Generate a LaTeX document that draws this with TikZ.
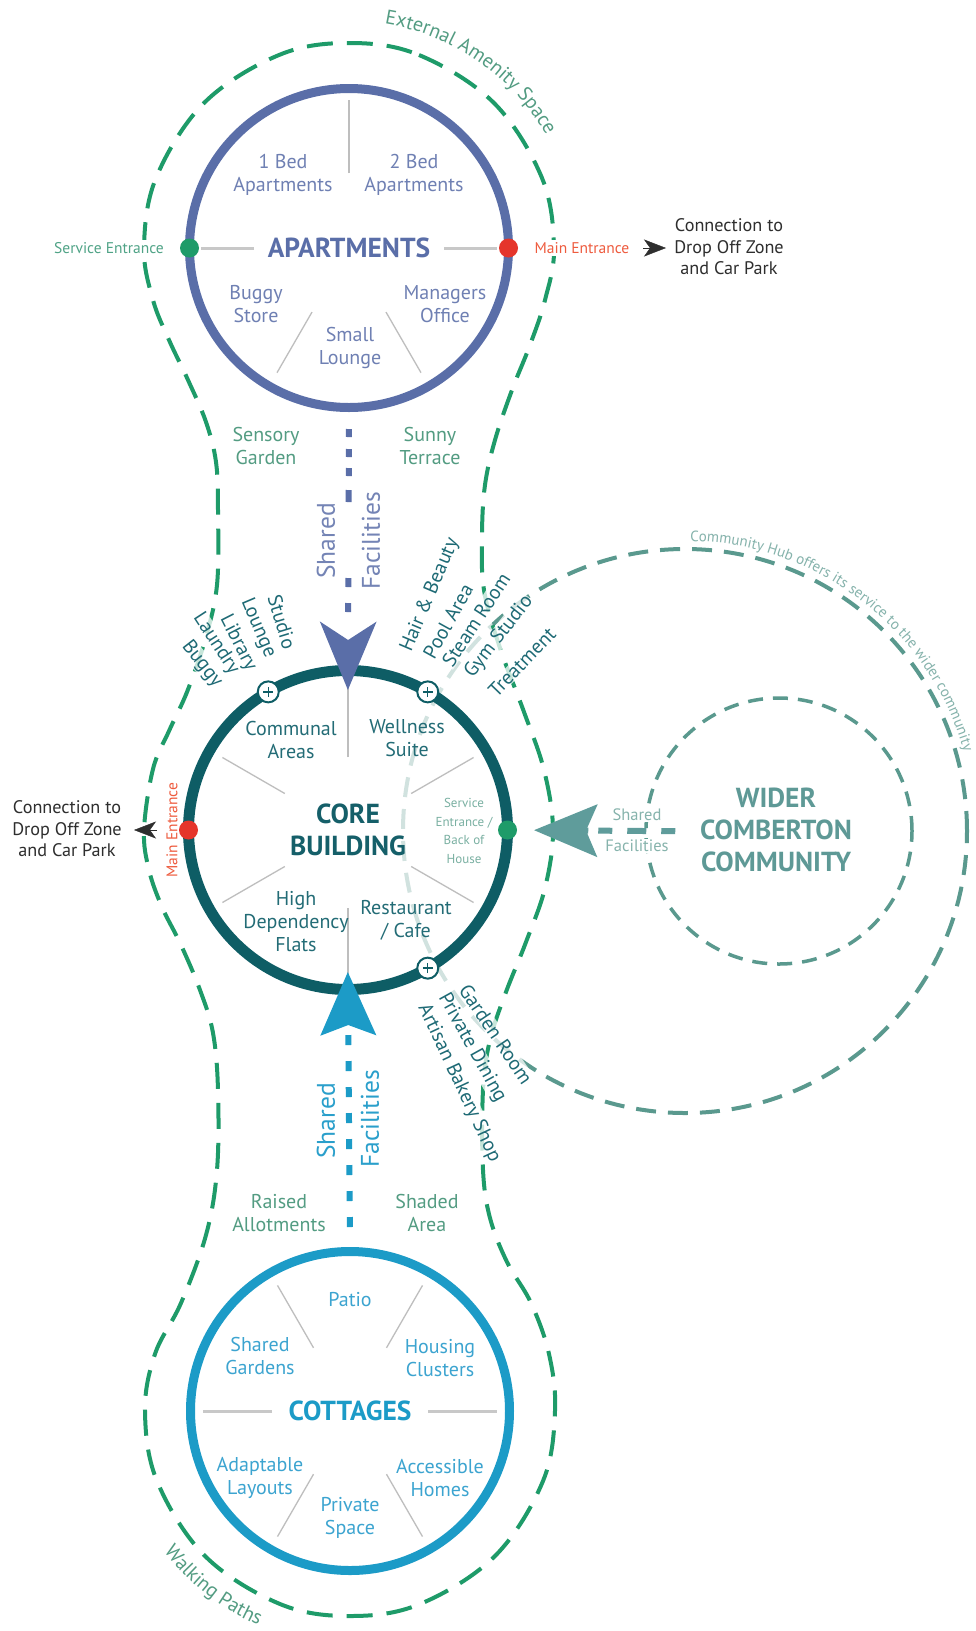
\documentclass[tikz,border=0pt]{standalone}
\usepackage{fontspec}
\setmainfont{PT Sans}
\usetikzlibrary{arrows.meta,decorations.text,calc}
\definecolor{aptblue}{HTML}{5A6EA8}
\definecolor{apttext}{HTML}{6F80B3}
\definecolor{coreteal}{HTML}{0E5D65}
\definecolor{coretitle}{HTML}{155F69}
\definecolor{coretext}{HTML}{236C76}
\definecolor{fantext}{HTML}{1E6A75}
\definecolor{cotblue}{HTML}{1C9BC7}
\definecolor{cottext}{HTML}{3CA4D0}
\definecolor{amgreen}{HTML}{1E9B69}
\definecolor{amlabel}{HTML}{539C82}
\definecolor{widertitle}{HTML}{5E9996}
\definecolor{widerdash}{HTML}{5A998E}
\definecolor{widerlight}{HTML}{86B3AC}
\definecolor{widerarrow}{HTML}{5F9C9B}
\definecolor{divgrey}{HTML}{BEBEBE}
\definecolor{stubgrey}{HTML}{C8C8C8}
\definecolor{entred}{HTML}{E5352B}
\definecolor{entredtext}{HTML}{EE5B3E}
\definecolor{conntext}{HTML}{2E2E2E}
\definecolor{svcgreen}{HTML}{1E9B69}
\definecolor{svctext}{HTML}{4FA386}
\definecolor{svccore}{HTML}{7AB0A2}
\definecolor{sftop}{HTML}{7484B5}
\definecolor{sfbot}{HTML}{2A9FCB}
\begin{document}
\begin{tikzpicture}[x=1pt,y=-1pt,
  lbl/.style={font=\fontsize{20}{23}\selectfont, align=center, inner sep=1pt},
  ttl/.style={font=\bfseries\fontsize{27.5}{32}\selectfont, align=center, inner sep=1pt},
  aptlbl/.style={lbl, text=apttext},
  corelbl/.style={lbl, text=coretext},
  cotlbl/.style={lbl, text=cottext},
  amlbl/.style={lbl, text=amlabel},
  fanfont/.style={font=\fontsize{20}{20}\selectfont, inner sep=0.5pt},
  fanbg/.style={fanfont, fill=white, fill opacity=0.75},
  fanlbl/.style={fanfont, text=fantext},
  ring/.style={circle, inner sep=0pt, minimum size=319pt},
  divline/.style={draw=divgrey, line width=1.3pt},
  stub/.style={draw=stubgrey, line width=3pt},
  amdash/.style={draw=amgreen, line width=4pt, dash pattern=on 26pt off 14pt},
  hubdash/.style={draw=widerdash, line width=4pt, dash pattern=on 20pt off 12pt},
  widerdashs/.style={draw=widerdash, line width=3.5pt, dash pattern=on 15pt off 10pt},
  dot/.style={circle, inner sep=0pt, minimum size=19pt},
  plusicon/.style={circle, inner sep=0pt, minimum size=21pt, fill=white, draw=coreteal, line width=2pt,
    path picture={\draw[coreteal, line width=1.3pt]
      ($(path picture bounding box.center)+(-5pt,0pt)$) -- ($(path picture bounding box.center)+(5pt,0pt)$)
      ($(path picture bounding box.center)+(0pt,-5pt)$) -- ($(path picture bounding box.center)+(0pt,5pt)$);}},
  smallarrow/.style={draw=conntext, line width=0.4pt, -{Stealth[length=22pt, width=17pt, inset=6pt]}},
  smalltxt/.style={font=\fontsize{15.5}{17}\selectfont, inner sep=2pt},
  conn/.style={font=\fontsize{18.2}{21.5}\selectfont, align=center, text=conntext, inner sep=1pt},
  sflbl/.style={font=\fontsize{25.5}{26}\selectfont, inner sep=1pt, rotate=90}
]
\fill[white] (0,0) rectangle (976,1631);
\useasboundingbox (0,0) rectangle (976,1631);
\coordinate (A) at (349,248);
\coordinate (C) at (348,830);
\coordinate (T) at (350,1411);
\coordinate (W) at (779,831);
\coordinate (H) at (685,831);

% community hub circle
\draw[hubdash] (H) circle[radius=282pt];

% external amenity contour
\path[amdash, fill=white, fill opacity=0.72] plot[smooth cycle, tension=0.6] coordinates {
 (349,43) (419,55) (494,103) (542,178) (554,248) (545,300) (530,345) (512,390) (495,440)
 (485,485) (482,535) (484,590) (500,648) (524,712) (544,770) (553,830) (545,888) (526,942)
 (506,992) (490,1040) (483,1090) (483,1170) (490,1218) (507,1262) (531,1303) (549,1354)
 (555,1411) (543,1481) (495,1556) (420,1604) (350,1616) (280,1604) (205,1556) (157,1481)
 (145,1411) (155,1354) (181,1303) (206,1235) (217,1170) (218,1090) (213,1033) (200,990)
 (181,945) (162,907) (149,870) (144,830) (153,769) (169,731) (187,692) (205,640) (217,585)
 (218,510) (216,462) (206,422) (188,380) (169,340) (153,300) (144,248) (156,178) (204,103) (279,55)};

% wider community circle
\node[circle, inner sep=0pt, minimum size=266pt, widerdashs] (wider) at (W) {};

% text along paths
\path[decorate, decoration={text along path,
  text={|\fontsize{20}{20}\selectfont\color{amlabel}|External Amenity Space}}]
  ($(A)+(81:227pt)$) arc[start angle=81, end angle=15, radius=227pt];
\path[decorate, decoration={text along path,
  text={|\fontsize{20}{20}\selectfont\color{amlabel}|Walking Paths}}]
  ($(T)+(217:233pt)$) arc[start angle=217, end angle=262, radius=233pt];
\path[decorate, decoration={text along path,
  text={|\fontsize{15}{15}\selectfont\color{widerlight}|Community Hub offers its service to the wider community}}]
  ($(H)+(89:290pt)$) arc[start angle=89, end angle=0, radius=290pt];

% dividers apartments
\draw[divline] ($(A)+(90:75pt)$) -- ($(A)+(90:148pt)$);
\draw[divline] ($(A)+(240:74pt)$) -- ($(A)+(240:144pt)$);
\draw[divline] ($(A)+(300:74pt)$) -- ($(A)+(300:144pt)$);
\draw[stub] ($(A)+(180:95pt)$) -- ($(A)+(180:148pt)$);
\draw[stub] ($(A)+(0:95pt)$) -- ($(A)+(0:148pt)$);
% dividers core
\foreach \a in {30,90,150,210,330} \draw[divline] ($(C)+(\a:73pt)$) -- ($(C)+(\a:145pt)$);
\draw[divline] ($(C)+(270:78pt)$) -- ($(C)+(270:147pt)$);
% dividers cottages
\foreach \a in {60,120,240,300} \draw[divline] ($(T)+(\a:73pt)$) -- ($(T)+(\a:145pt)$);
\draw[stub] ($(T)+(180:78pt)$) -- ($(T)+(180:147pt)$);
\draw[stub] ($(T)+(0:78pt)$) -- ($(T)+(0:147pt)$);

% rings
\node[ring, draw=aptblue, line width=9pt] (apt) at (A) {};
\node[ring, draw=coreteal, line width=11pt] (core) at (C) {};
\node[ring, draw=cotblue, line width=9pt] (cot) at (T) {};

% titles
\node[ttl, text=aptblue] (apttitle) at (A) {APARTMENTS};
\node[ttl, text=coretitle] (coretitle) at (C) {CORE\\BUILDING};
\node[ttl, text=cotblue] (cottitle) at (T) {COTTAGES};
\node[ttl, text=widertitle] (widertitle) at (776,830) {WIDER\\COMBERTON\\COMMUNITY};

% apartment labels
\node[aptlbl] (a1) at (283,175) {1 Bed\\Apartments};
\node[aptlbl] (a2) at (414,175) {2 Bed\\Apartments};
\node[aptlbl] (a3) at (256,304) {Buggy\\Store};
\node[aptlbl] (a4) at (445,304) {Managers\\Office};
\node[aptlbl] (a5) at (350,348) {Small\\Lounge};
% core labels
\node[corelbl] (c1) at (291,740) {Communal\\Areas};
\node[corelbl] (c2) at (407,738) {Wellness\\Suite};
\node[corelbl] (c3) at (296,922) {High\\Dependency\\Flats};
\node[corelbl] (c4) at (406,920) {Restaurant\\/ Cafe};
\node[font=\fontsize{13}{18.5}\selectfont, align=center, text=svccore, inner sep=1pt] (c5) at (464,831) {Service\\Entrance /\\Back of\\House};
% cottage labels
\node[cotlbl] (t1) at (350,1300) {Patio};
\node[cotlbl] (t2) at (260,1356) {Shared\\Gardens};
\node[cotlbl] (t3) at (440,1358) {Housing\\Clusters};
\node[cotlbl] (t4) at (260,1478) {Adaptable\\Layouts};
\node[cotlbl] (t5) at (440,1478) {Accessible\\Homes};
\node[cotlbl] (t6) at (350,1518) {Private\\Space};
% amenity labels
\node[amlbl] (g1) at (266,446) {Sensory\\Garden};
\node[amlbl] (g2) at (430,446) {Sunny\\Terrace};
\node[amlbl] (g3) at (279,1213) {Raised\\Allotments};
\node[amlbl] (g4) at (427,1213) {Shaded\\Area};

% entrances and connections
\node[smalltxt, text=svctext, fill=white] (aptsetext) at (109,248) {Service Entrance};
\node[smalltxt, text=entredtext, fill=white] (aptmetext) at (582,248) {Main Entrance};
\node[conn] (connR) at (729,247) {Connection to\\Drop Off Zone\\and Car Park};
\node[conn] (connL) at (67,829) {Connection to\\Drop Off Zone\\and Car Park};
\node[smalltxt, text=entredtext, rotate=90, fill=white, inner sep=1pt] (coremetext) at (172,830) {Main Entrance};
\coordinate (arrR1) at (643,248);
\coordinate (arrR2) at (666,248);
\coordinate (arrL1) at (157,830);
\coordinate (arrL2) at (134,830);
\draw[smallarrow] (arrR1) -- (arrR2);
\draw[smallarrow] (arrL1) -- (arrL2);

% fan labels: translucent backgrounds first, then the texts
\foreach \x/\y/\r/\t in {202/664/-52/Buggy, 216/644/-57/Laundry, 238/643/-63/Library, 258/628/-67/Lounge, 282/622/-73/Studio,
  430/595/67/Hair \& Beauty, 448/621/61/Pool Area, 476/620/57/Steam Room, 499/637/52/Gym Studio, 522/662/46/Treatment,
  496/1034/-56/Garden Room, 472/1048/-61/Private Dining, 459/1083/-65/Artisan Bakery Shop}
  \node[fanbg, rotate=\r] at (\x,\y) {\phantom{\t}};
\foreach \x/\y/\r/\t/\n in {202/664/-52/Buggy/fbuggy, 216/644/-57/Laundry/flaundry, 238/643/-63/Library/flibrary, 258/628/-67/Lounge/flounge, 282/622/-73/Studio/fstudio,
  430/595/67/Hair \& Beauty/fhair, 448/621/61/Pool Area/fpool, 476/620/57/Steam Room/fsteam, 499/637/52/Gym Studio/fgym, 522/662/46/Treatment/ftreat,
  496/1034/-56/Garden Room/fgarden, 472/1048/-61/Private Dining/fprivate, 459/1083/-65/Artisan Bakery Shop/fartisan}
  \node[fanlbl, rotate=\r] (\n) at (\x,\y) {\t};

% shared facilities (vertical)
\draw[draw=aptblue, line width=6pt,
  dash pattern=on 8pt off 12pt on 8pt off 11pt on 8pt off 14pt on 12pt off 76pt on 9pt off 16pt on 9pt off 30pt,
  -{Stealth[length=68pt, width=56pt, inset=18pt]}, shorten <=17pt, shorten >=-25pt] (apt.south) -- (core.north);
\draw[draw=cotblue, line width=6pt, dash pattern=on 10pt off 16pt,
  -{Stealth[length=63pt, width=55pt, inset=10pt]}, shorten <=20pt, shorten >=-23pt] (cot.north) -- (core.south);
\node[sflbl, text=sftop] (sf1a) at (326,541) {Shared};
\node[sflbl, text=sftop] (sf1b) at (371,541) {Facilities};
\node[sflbl, text=sfbot] (sf2a) at (326,1121) {Shared};
\node[sflbl, text=sfbot] (sf2b) at (370,1119) {Facilities};

% wider shared facilities
\node[font=\fontsize{16.5}{17}\selectfont, text=widerlight, fill=white, inner sep=1pt] (sf3a) at (637,815) {Shared};
\node[font=\fontsize{16.5}{17}\selectfont, text=widerlight, fill=white, inner sep=1pt] (sf3b) at (637,846) {Facilities};
\draw[draw=widerarrow, line width=6pt, dash pattern=on 14pt off 15pt on 19pt off 15pt on 14pt off 10pt,
  -{Stealth[length=63pt, width=52pt, inset=11pt]}, shorten <=-31pt, shorten >=21pt] (wider.west) -- (core.east);

% entrance dots
\node[dot, fill=svcgreen] (aptse) at ($(A)+(180:159.5pt)$) {};
\node[dot, fill=entred] (aptme) at ($(A)+(0:159.5pt)$) {};
\node[dot, fill=entred] (coreme) at ($(C)+(180:159.5pt)$) {};
\node[dot, fill=svcgreen] (corese) at ($(C)+(0:159.5pt)$) {};

% plus icons
\node[plusicon] (p1) at ($(C)+(120:159.5pt)$) {};
\node[plusicon] (p2) at ($(C)+(60:159.5pt)$) {};
\node[plusicon] (p3) at ($(C)+(300:159.5pt)$) {};
\end{tikzpicture}
\end{document}
